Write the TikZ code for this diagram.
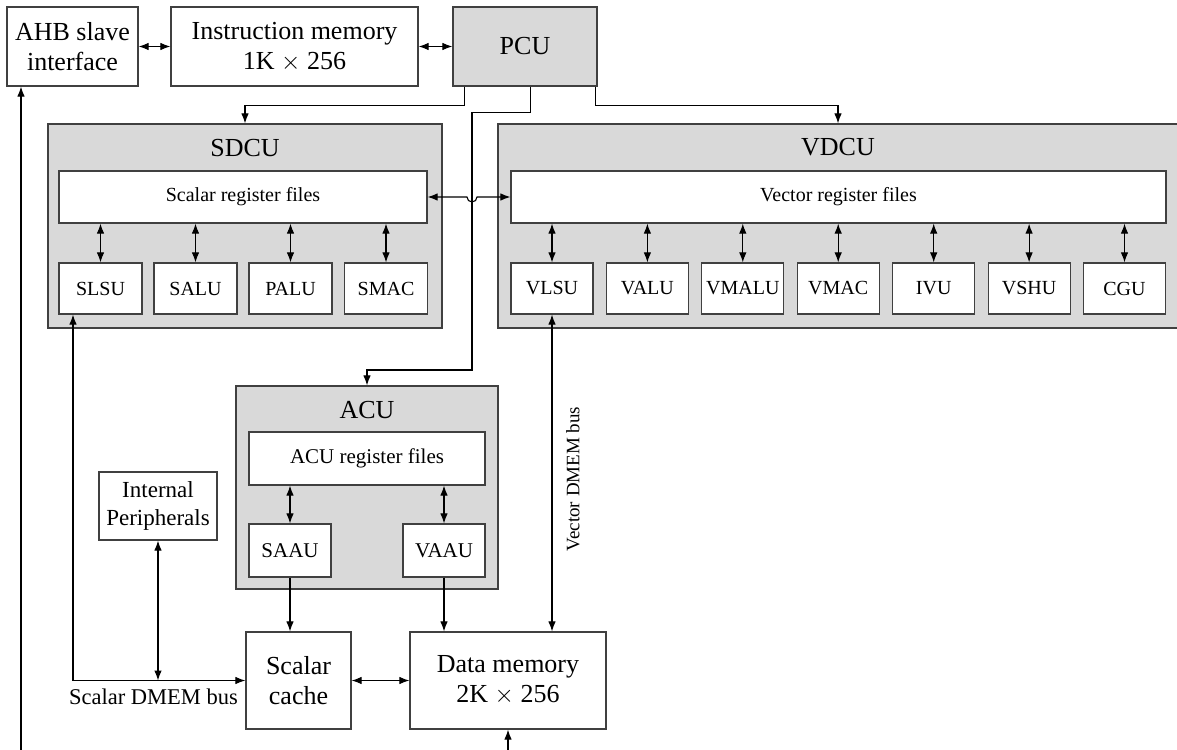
\documentclass[tikz,border=0pt]{standalone}
\usepackage{fontspec}
\setmainfont{Liberation Serif}
\usetikzlibrary{arrows.meta,calc}
\definecolor{panel}{RGB}{217,217,217}
\definecolor{edge}{RGB}{64,64,64}
\tikzset{
  box/.style={draw=edge, line width=1.2pt, fill=white, inner sep=0pt, align=center,
    font=\fontsize{26}{30}\selectfont},
  panelbox/.style={box, fill=panel},
  unit/.style={box, minimum width=82pt, minimum height=51pt, font=\fontsize{20}{24}\selectfont},
  aunit/.style={box, minimum width=82pt, minimum height=53pt, font=\fontsize{21}{24}\selectfont},
  regbox/.style={box, minimum height=52pt, font=\fontsize{20}{24}\selectfont},
  lab/.style={inner sep=0pt, font=\fontsize{26}{30}\selectfont},
  conn/.style={line width=1.1pt, draw=black},
  arr/.style={conn, -{Latex[length=10pt,width=7.5pt]}},
  darr/.style={conn, {Latex[length=10pt,width=7.5pt]}-{Latex[length=10pt,width=7.5pt]}}
}
\begin{document}
\begin{tikzpicture}[x=1pt,y=-1pt]
\path[use as bounding box, clip] (0,0) rectangle (1177,749);
\fill[white] (0,0) rectangle (1177,749);

% top row
\node[box, minimum width=131pt, minimum height=79pt] (ahb) at (72.5,46.5) {AHB slave\\interface};
\node[box, minimum width=247pt, minimum height=79pt] (imem) at (294.5,46.5) {Instruction memory\\1K $\times$ 256};
\node[panelbox, minimum width=144pt, minimum height=79pt] (pcu) at (525,46.5) {PCU};

% panels
\node[panelbox, minimum width=394pt, minimum height=204pt] (sdcu) at (245,226) {};
\node[panelbox, minimum width=682pt, minimum height=204pt] (vdcu) at (839,226) {};
\node[panelbox, minimum width=262pt, minimum height=203pt] (acu) at (367,487.5) {};
\node[lab] (sdculab) at (245,148) {SDCU};
\node[lab] (vdculab) at (838,147) {VDCU};
\node[lab] (aculab) at (367,410) {ACU};

% register files
\node[regbox, minimum width=368pt] (srf) at (243,197) {Scalar register files};
\node[regbox, minimum width=655pt] (vrf) at (838.5,197) {Vector register files};
\node[regbox, minimum width=236pt, minimum height=53pt, font=\fontsize{21}{24}\selectfont] (arf) at (367,458.5) {ACU register files};

% scalar units
\node[unit, minimum width=83pt] (slsu) at (100.5,288.5) {SLSU};
\node[unit, minimum width=83pt] (salu) at (195.5,288.5) {SALU};
\node[unit, minimum width=83pt] (palu) at (290.5,288.5) {PALU};
\node[unit, minimum width=83pt] (smac) at (386,288.5) {SMAC};

% vector units
\node[unit] (vlsu)  at (552,288.5) {VLSU};
\node[unit] (valu)  at (647.4,288.5) {VALU};
\node[unit] (vmalu) at (742.8,288.5) {VMALU};
\node[unit] (vmac)  at (838.2,288.5) {VMAC};
\node[unit] (ivu)   at (933.7,288.5) {IVU};
\node[unit] (vshu)  at (1029.1,288.5) {VSHU};
\node[unit] (cgu)   at (1124.5,288.5) {CGU};

% ACU units
\node[aunit] (saau) at (290,550.5) {SAAU};
\node[aunit] (vaau) at (444,550.5) {VAAU};

% lower blocks
\node[box, minimum width=118pt, minimum height=68pt, font=\fontsize{23}{28}\selectfont] (ip) at (158,506) {Internal\\Peripherals};
\node[box, minimum width=105pt, minimum height=97pt] (scache) at (298.5,680.5) {Scalar\\cache};
\node[box, minimum width=196pt, minimum height=97pt] (dmem) at (508,680.5) {Data memory\\2K $\times$ 256};

% labels
\node[inner sep=0pt, anchor=base east, font=\fontsize{22.5}{26}\selectfont] (sbus) at (238,704) {Scalar DMEM bus};
\node[inner sep=0pt, rotate=90, font=\fontsize{19}{22}\selectfont] (vbus) at (573,479) {Vector DMEM bus};

% coordinates
\coordinate (bendA) at (472,112.5);
\coordinate (bendB) at (472,370);
\coordinate (ahbin) at (21,760);
\coordinate (dmemin) at (508,760);

% top row connectors
\draw[darr] (ahb.east) -- (imem.west);
\draw[darr] (imem.east) -- (pcu.west);

% PCU outputs
\draw[arr] ([xshift=12pt]pcu.south west) -- ++(0,18.5) -| (sdcu.north);
\draw[arr] ([xshift=78pt]pcu.south west) |- (bendA) -- (bendB) -| (acu.north);
\draw[arr] ([xshift=-2pt]pcu.south east) -- ++(0,18.5) -| ([xshift=-1pt]vdcu.north);

% register file link with jump
\draw[darr] (srf.east) -- (467,197) arc[start angle=180, end angle=0, radius=5] -- (vrf.west);

% unit links
\foreach \u in {slsu,salu,palu,smac}{
  \draw[darr] (\u.north) -- (\u.north |- srf.south);
}
\foreach \u in {vlsu,valu,vmalu,vmac,ivu,vshu,cgu}{
  \draw[darr] (\u.north) -- (\u.north |- vrf.south);
}
\draw[darr] (saau.north) -- (saau.north |- arf.south);
\draw[darr] (vaau.north) -- (vaau.north |- arf.south);

% ACU to memories
\draw[arr] (saau.south) -- (saau.south |- scache.north);
\draw[arr] (vaau.south) -- (vaau.south |- dmem.north);

% buses
\draw[darr] (vlsu.south) -- (vlsu.south |- dmem.north);
\draw[darr] ([xshift=-27.5pt]slsu.south) |- (scache.west);
\draw[darr] (ip.south) -- (ip.south |- scache.west);
\draw[darr] (scache.east) -- (dmem.west);
\draw[arr] (ahbin) -- (ahbin |- ahb.south);
\draw[arr] (dmemin) -- (dmem.south);
\end{tikzpicture}
\end{document}
